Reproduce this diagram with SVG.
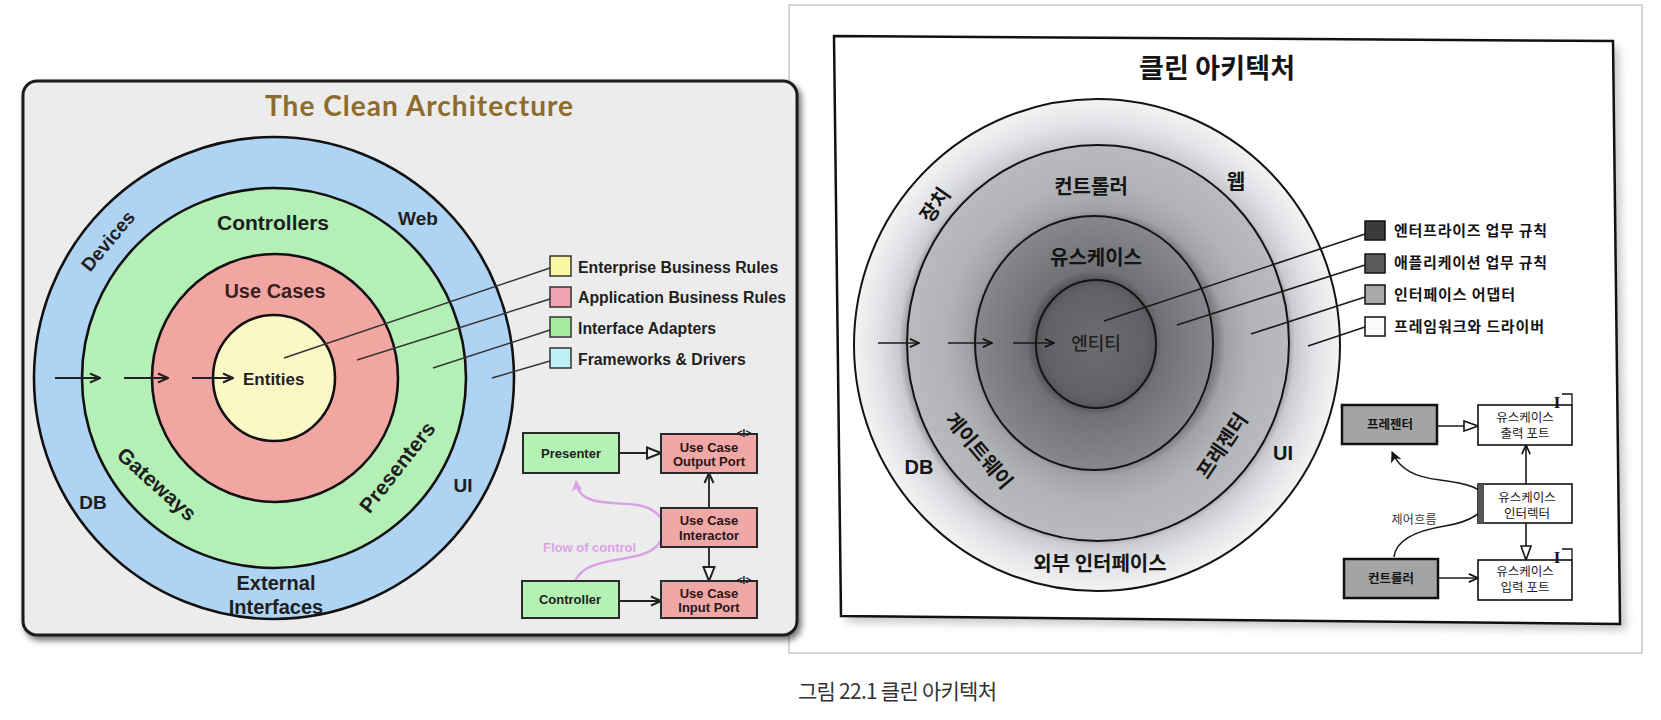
<svg xmlns="http://www.w3.org/2000/svg" width="1661" height="720" viewBox="0 0 1661 720">
<defs>
<style>
.en{font-family:"Liberation Sans",Arial,sans-serif;font-weight:bold;fill:#1e1e1e}
.kr{font-family:"Noto Sans CJK KR","Noto Sans",sans-serif;fill:#1a1a1a}
.krb{font-family:"Noto Sans CJK KR","Noto Sans",sans-serif;font-weight:bold;fill:#141414}
.ring{stroke:#111;stroke-width:2.6}
.rring{stroke:#141414;stroke-width:2}
.conn{fill:none;stroke:#222;stroke-width:1.8}
.rconn{fill:none;stroke:#1a1a1a;stroke-width:1.6}
.leg{fill:none;stroke:#333;stroke-width:1.4}
.lbox{stroke:#333;stroke-width:1.5}
.gbox{fill:#b3f2b4;stroke:#2a2a2a;stroke-width:2}
.pbox{fill:#f0a8a6;stroke:#2a2a2a;stroke-width:2}
.rgray{fill:#a4a4a4;stroke:#111;stroke-width:2.5}
.rwhite{fill:#fff;stroke:#111;stroke-width:1.6}
.red{fill:#2a1515}
</style>
<marker id="vL" viewBox="0 0 12 12" refX="11" refY="6" markerWidth="12" markerHeight="12" markerUnits="userSpaceOnUse" orient="auto"><path d="M1,1.5 L11,6 L1,10.5" fill="none" stroke="#222" stroke-width="2"/></marker>
<marker id="triL" viewBox="0 0 16 14" refX="15" refY="7" markerWidth="16" markerHeight="14" markerUnits="userSpaceOnUse" orient="auto"><path d="M1,1.5 L15,7 L1,12.5 Z" fill="#f4f4f4" stroke="#222" stroke-width="2"/></marker>
<marker id="flowL" viewBox="0 0 12 12" refX="10" refY="6" markerWidth="12" markerHeight="12" markerUnits="userSpaceOnUse" orient="auto"><path d="M0,0.5 L11,6 L0,11.5 L3,6 Z" fill="#d9a2e6"/></marker>
<marker id="vR" viewBox="0 0 12 12" refX="11" refY="6" markerWidth="11" markerHeight="11" markerUnits="userSpaceOnUse" orient="auto"><path d="M1,1.5 L11,6 L1,10.5" fill="none" stroke="#111" stroke-width="1.8"/></marker>
<marker id="triR" viewBox="0 0 16 12" refX="15" refY="6" markerWidth="16" markerHeight="12" markerUnits="userSpaceOnUse" orient="auto"><path d="M1,1 L15,6 L1,11 Z" fill="#fff" stroke="#111" stroke-width="1.6"/></marker>
<marker id="flowR" viewBox="0 0 12 12" refX="10" refY="6" markerWidth="12" markerHeight="12" markerUnits="userSpaceOnUse" orient="auto"><path d="M0,0.5 L11,6 L0,11.5 L3,6 Z" fill="#111"/></marker>
<filter id="shL" x="-5%" y="-5%" width="112%" height="115%"><feGaussianBlur in="SourceAlpha" stdDeviation="3"/><feOffset dx="3" dy="4"/><feComponentTransfer><feFuncA type="linear" slope="0.55"/></feComponentTransfer><feMerge><feMergeNode/><feMergeNode in="SourceGraphic"/></feMerge></filter>
<filter id="blurR" x="-5%" y="-5%" width="110%" height="110%"><feGaussianBlur stdDeviation="4"/></filter>
<radialGradient id="gOuter"><stop offset="0.785" stop-color="#9c9ea2"/><stop offset="0.815" stop-color="#c9cbce"/><stop offset="0.9" stop-color="#e2e3e6"/><stop offset="1" stop-color="#f3f3f5"/></radialGradient>
<radialGradient id="gCtrl"><stop offset="0.62" stop-color="#7b7d81"/><stop offset="0.67" stop-color="#a0a2a6"/><stop offset="0.8" stop-color="#b1b3b7"/><stop offset="1" stop-color="#b8babe"/></radialGradient>
<radialGradient id="gUse"><stop offset="0.5" stop-color="#55565a"/><stop offset="0.57" stop-color="#707175"/><stop offset="1" stop-color="#86888b"/></radialGradient>
<radialGradient id="gEnt"><stop offset="0" stop-color="#6c6d70"/><stop offset="0.85" stop-color="#616265"/><stop offset="1" stop-color="#56575a"/></radialGradient>
</defs>

<rect width="1661" height="720" fill="#ffffff"/>

<!-- right page -->
<g id="right-page">
<rect x="789" y="5" width="853" height="648" fill="#ffffff" stroke="#c6c6c6" stroke-width="1.5"/>
<polygon points="840,42 1619,47 1626,630 847,622" fill="#9a9a9a" opacity="0.55" filter="url(#blurR)"/>
<polygon points="834,36 1613,41 1620,624 841,616" fill="#ffffff" stroke="#111" stroke-width="2.5"/>
<text class="krb" x="1217" y="78" font-size="27" text-anchor="middle" textLength="156">클린 아키텍처</text>
</g>

<!-- right rings -->
<g id="r-rings">
<ellipse id="r-outer" cx="1097" cy="345" rx="243" ry="246" fill="url(#gOuter)" class="rring"/>
<ellipse id="r-ctrl" cx="1098" cy="343" rx="191" ry="198" fill="url(#gCtrl)" class="rring"/>
<ellipse id="r-use" cx="1094" cy="343" rx="119" ry="127" fill="url(#gUse)" class="rring"/>
<ellipse id="r-ent" cx="1096" cy="344" rx="60" ry="64" fill="url(#gEnt)" class="rring"/>
</g>
<g id="r-ring-labels">
<text class="krb" x="1091" y="194" font-size="20" text-anchor="middle">컨트롤러</text>
<text class="krb" x="1236" y="189" font-size="20" text-anchor="middle">웹</text>
<text class="krb" x="1096" y="265" font-size="20" text-anchor="middle">유스케이스</text>
<text class="kr" x="1096" y="350" font-size="18" font-weight="500" text-anchor="middle" style="fill:#202020">엔티티</text>
<text class="krb" x="1100" y="571" font-size="20" text-anchor="middle">외부 인터페이스</text>
<text class="en" x="919" y="474" font-size="20" text-anchor="middle" style="fill:#151515">DB</text>
<text class="en" x="1283" y="460" font-size="20" text-anchor="middle" style="fill:#151515">UI</text>
<text class="krb" font-size="20" text-anchor="middle" dominant-baseline="central" transform="translate(934,204) rotate(-55)">장치</text>
<text class="krb" font-size="20" text-anchor="middle" dominant-baseline="central" transform="translate(980,450) rotate(50)">게이트웨이</text>
<text class="krb" font-size="20" text-anchor="middle" dominant-baseline="central" transform="translate(1221,445) rotate(-56)">프레젠터</text>
</g>

<!-- right legend -->
<g id="r-legend">
<rect x="1365" y="221" width="20" height="19" fill="#3b3b3d" stroke="#111" stroke-width="1.5"/>
<rect x="1365" y="254" width="20" height="19" fill="#5b5b5e" stroke="#111" stroke-width="1.5"/>
<rect x="1365" y="285" width="20" height="19" fill="#a9a9ab" stroke="#111" stroke-width="1.5"/>
<rect x="1365" y="317" width="20" height="19" fill="#fafafa" stroke="#111" stroke-width="1.5"/>
<text class="krb" x="1394" y="236" font-size="15" textLength="153">엔터프라이즈 업무 규칙</text>
<text class="krb" x="1394" y="268" font-size="15" textLength="153">애플리케이션 업무 규칙</text>
<text class="krb" x="1394" y="300" font-size="15" textLength="121">인터페이스 어댑터</text>
<text class="krb" x="1394" y="332" font-size="15" textLength="150">프레임워크와 드라이버</text>
</g>

<!-- right connectors -->
<g id="r-connectors">
<path class="rconn" d="M878,343 H919" marker-end="url(#vR)"/>
<path class="rconn" d="M948,343 H992" marker-end="url(#vR)"/>
<path class="rconn" d="M1013,343 H1054" marker-end="url(#vR)"/>
<path class="rconn" d="M1104,321 L1365,234"/>
<path class="rconn" d="M1177,325 L1365,265"/>
<path class="rconn" d="M1251,334 L1365,297"/>
<path class="rconn" d="M1308,346 L1365,327"/>
<path class="rconn" d="M1394,557 C1396,538 1420,530 1445,526 C1470,522 1486,512 1486,500 C1486,488 1465,483 1440,480 C1415,477 1400,470 1392,452" marker-end="url(#flowR)"/>
<path class="rconn" d="M1437,426 H1478" marker-end="url(#triR)"/>
<path class="rconn" d="M1526,484 V445" marker-end="url(#vR)"/>
<path class="rconn" d="M1526,523 V560" marker-end="url(#triR)"/>
<path class="rconn" d="M1438,578 H1478" marker-end="url(#vR)"/>
</g>
<text class="kr" x="1414" y="524" font-size="12" text-anchor="middle" style="fill:#333" textLength="45">제어흐름</text>

<!-- right boxes -->
<g id="r-presenter">
<rect class="rgray" x="1342" y="405" width="95" height="39"/>
<text class="krb" x="1390" y="429" font-size="12.5" text-anchor="middle">프레젠터</text>
</g>
<g id="r-output-port">
<rect class="rwhite" x="1478" y="405" width="94" height="40"/>
<text class="kr" x="1525" y="422" font-size="12.5" text-anchor="middle">유스케이스</text>
<text class="kr" x="1525" y="438" font-size="12.5" text-anchor="middle">출력 포트</text>
<text x="1557" y="408" font-family="Liberation Serif,serif" font-weight="bold" font-size="17" text-anchor="middle" fill="#111">I</text>
<path d="M1562,394 H1572 V405" fill="none" stroke="#111" stroke-width="1.3"/>
</g>
<g id="r-interactor">
<rect class="rwhite" x="1478" y="484" width="94" height="39"/>
<rect x="1478" y="484" width="6" height="39" fill="#555"/>
<text class="kr" x="1527" y="502" font-size="12.5" text-anchor="middle">유스케이스</text>
<text class="kr" x="1527" y="518" font-size="12.5" text-anchor="middle">인터렉터</text>
</g>
<g id="r-input-port">
<rect class="rwhite" x="1478" y="560" width="94" height="40"/>
<text class="kr" x="1525" y="576" font-size="12.5" text-anchor="middle">유스케이스</text>
<text class="kr" x="1525" y="592" font-size="12.5" text-anchor="middle">입력 포트</text>
<text x="1557" y="563" font-family="Liberation Serif,serif" font-weight="bold" font-size="17" text-anchor="middle" fill="#111">I</text>
<path d="M1562,549 H1572 V560" fill="none" stroke="#111" stroke-width="1.3"/>
</g>
<g id="r-controller">
<rect class="rgray" x="1344" y="559" width="94" height="39"/>
<text class="krb" x="1391" y="583" font-size="12.5" text-anchor="middle">컨트롤러</text>
</g>

<!-- left panel -->
<g id="left-panel">
<rect x="23" y="81" width="774" height="554" rx="14" fill="#ececec" stroke="#1c1c1c" stroke-width="3" filter="url(#shL)"/>
<text x="419" y="116" font-family="Lato,'Open Sans',sans-serif" font-weight="bold" font-size="28" text-anchor="middle" fill="#8d6c2c" textLength="308">The Clean Architecture</text>
</g>

<g id="l-rings">
<ellipse id="l-frameworks" cx="274" cy="378" rx="240" ry="241" fill="#afd4f3" class="ring"/>
<ellipse id="l-adapters" cx="274" cy="378" rx="192" ry="190" fill="#b4f0b6" class="ring"/>
<ellipse id="l-usecases" cx="275" cy="378" rx="123" ry="124" fill="#f2a6a2" class="ring"/>
<ellipse id="l-entities" cx="274" cy="378" rx="61" ry="63" fill="#fbf8c6" class="ring"/>
</g>
<g id="l-ring-labels">
<text class="en" x="273" y="230" font-size="21" text-anchor="middle">Controllers</text>
<text class="en red" x="275" y="298" font-size="20" text-anchor="middle" style="fill:#3a1f1f">Use Cases</text>
<text class="en" x="243" y="385" font-size="17">Entities</text>
<text class="en" x="418" y="225" font-size="19" text-anchor="middle">Web</text>
<text class="en" x="463" y="492" font-size="19" text-anchor="middle">UI</text>
<text class="en" x="93" y="509" font-size="19" text-anchor="middle">DB</text>
<text class="en" x="276" y="590" font-size="20" text-anchor="middle">External</text>
<text class="en" x="276" y="614" font-size="20" text-anchor="middle">Interfaces</text>
<text class="en" font-size="19" text-anchor="middle" dominant-baseline="central" transform="translate(108,241) rotate(-50)">Devices</text>
<text class="en" font-size="21" text-anchor="middle" dominant-baseline="central" transform="translate(157,484) rotate(42)">Gateways</text>
<text class="en" font-size="21" text-anchor="middle" dominant-baseline="central" transform="translate(397,467) rotate(-52)">Presenters</text>
</g>

<g id="l-legend">
<rect class="lbox" x="550" y="256" width="21" height="20" fill="#f9f7a2"/>
<rect class="lbox" x="550" y="287" width="21" height="20" fill="#f2a3b4"/>
<rect class="lbox" x="550" y="317" width="21" height="20" fill="#a4ec9d"/>
<rect class="lbox" x="550" y="348" width="21" height="20" fill="#bff0f6"/>
<text class="en" x="578" y="272.5" font-size="15.8">Enterprise Business Rules</text>
<text class="en" x="578" y="302.5" font-size="15.8">Application Business Rules</text>
<text class="en" x="578" y="333.5" font-size="15.8">Interface Adapters</text>
<text class="en" x="578" y="364.5" font-size="15.8">Frameworks &amp; Drivers</text>
</g>

<g id="l-connectors">
<path class="conn" d="M55,378 H100" marker-end="url(#vL)"/>
<path class="conn" d="M124,378 H168" marker-end="url(#vL)"/>
<path class="conn" d="M192,378 H233" marker-end="url(#vL)"/>
<path class="leg" d="M284,358 L550,268"/>
<path class="leg" d="M357,360 L550,299"/>
<path class="leg" d="M433,368 L550,330"/>
<path class="leg" d="M492,378 L550,361"/>
<path d="M575,581 C585,560 615,562 640,555 C665,548 672,525 655,512 C640,500 610,506 592,500 C580,496 577,489 576,481" fill="none" stroke="#d9a2e6" stroke-width="2.4" marker-end="url(#flowL)"/>
<path class="conn" d="M619,453 H661" marker-end="url(#triL)"/>
<path class="conn" d="M709,508 V473" marker-end="url(#vL)"/>
<path class="conn" d="M709,547 V581" marker-end="url(#triL)"/>
<path class="conn" d="M619,601 H661" marker-end="url(#vL)"/>
</g>
<text class="en" x="543" y="552" font-size="13" style="fill:#d9a5e5">Flow of control</text>

<g id="l-presenter">
<rect class="gbox" x="523" y="433" width="96" height="40"/>
<text class="en" x="571" y="458" font-size="13" text-anchor="middle">Presenter</text>
</g>
<g id="l-output-port">
<rect class="pbox" x="661" y="434" width="96" height="39"/>
<text class="en red" x="709" y="452" font-size="13" text-anchor="middle">Use Case</text>
<text class="en red" x="709" y="466" font-size="13" text-anchor="middle">Output Port</text>
<text class="en" x="744" y="437" font-size="10" text-anchor="middle">&lt;I&gt;</text>
</g>
<g id="l-interactor">
<rect class="pbox" x="661" y="508" width="96" height="39"/>
<text class="en red" x="709" y="525" font-size="13" text-anchor="middle">Use Case</text>
<text class="en red" x="709" y="540" font-size="13" text-anchor="middle">Interactor</text>
</g>
<g id="l-input-port">
<rect class="pbox" x="661" y="581" width="96" height="37"/>
<text class="en red" x="709" y="598" font-size="13" text-anchor="middle">Use Case</text>
<text class="en red" x="709" y="612" font-size="13" text-anchor="middle">Input Port</text>
<text class="en" x="744" y="584" font-size="10" text-anchor="middle">&lt;I&gt;</text>
</g>
<g id="l-controller">
<rect class="gbox" x="522" y="581" width="97" height="37"/>
<text class="en" x="570" y="604" font-size="13" text-anchor="middle">Controller</text>
</g>

<text class="kr" x="798" y="699" font-size="21" style="fill:#333" textLength="199">그림 22.1 클린 아키텍처</text>
</svg>
